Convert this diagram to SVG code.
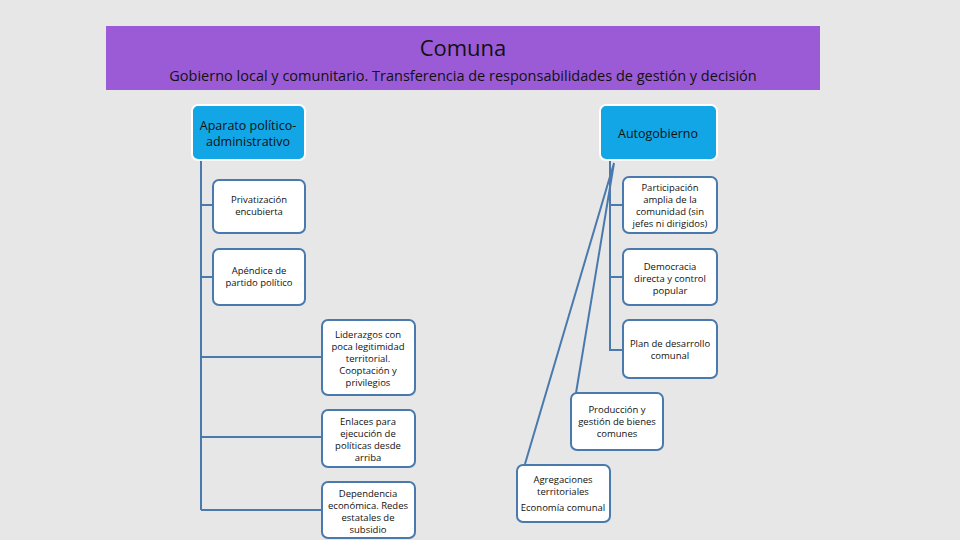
<svg xmlns="http://www.w3.org/2000/svg" width="960" height="540" viewBox="0 0 960 540">
<style>
text{font-family:"Open Sans","Liberation Sans",sans-serif;text-anchor:middle;fill:#111}
.b{fill:#fff;stroke:#4a7aad;stroke-width:2}
.h{fill:#12a6e6;stroke:#fff;stroke-width:2}
.s{font-size:9.5px}
.c{stroke:#4a7aad;stroke-width:2;fill:none}
</style>
<rect width="960" height="540" fill="#e7e7e7"/>
<g id="header"><rect x="106" y="26" width="714" height="64" fill="#9b5bd6"/>
<text x="463" y="56" style="font-size:22px">Comuna</text>
<text x="463" y="81" style="font-size:14.5px">Gobierno local y comunitario. Transferencia de responsabilidades de gestión y decisión</text></g>
<g id="connectors" class="c">
<path d="M201 160V510M201 205H213M201 277H213M201 357H322M201 437H322M201 510H322"/>
<path d="M610 160V350H623M610 205H623M610 277H623"/>
<path d="M614 163L576 393M614 163L525 464"/>
</g>
<g id="n1"><rect class="h" x="192" y="105" width="113" height="55" rx="6"/><text x="248" y="130" style="font-size:12.5px">Aparato político-</text><text x="248" y="146" style="font-size:12.5px">administrativo</text></g>
<g id="n2"><rect class="h" x="600" y="105" width="117" height="55" rx="6"/><text x="658" y="138" style="font-size:12.5px">Autogobierno</text></g>
<g id="n3" class="s"><rect class="b" x="213" y="180" width="92" height="53" rx="6"/><text x="259" y="203">Privatización</text><text x="259" y="215">encubierta</text></g>
<g id="n4" class="s"><rect class="b" x="213" y="249" width="92" height="56" rx="6"/><text x="259" y="274">Apéndice de</text><text x="259" y="286">partido político</text></g>
<g id="n5" class="s"><rect class="b" x="322" y="320" width="93" height="75" rx="6"/><text x="368" y="338">Liderazgos con</text><text x="368" y="350">poca legitimidad</text><text x="368" y="362">territorial.</text><text x="368" y="374">Cooptación y</text><text x="368" y="386">privilegios</text></g>
<g id="n6" class="s"><rect class="b" x="322" y="410" width="93" height="57" rx="6"/><text x="368" y="425">Enlaces para</text><text x="368" y="437">ejecución de</text><text x="368" y="449">políticas desde</text><text x="368" y="461">arriba</text></g>
<g id="n7" class="s"><rect class="b" x="322" y="482" width="93" height="56" rx="6"/><text x="368" y="497">Dependencia</text><text x="368" y="509">económica. Redes</text><text x="368" y="521">estatales de</text><text x="368" y="533">subsidio</text></g>
<g id="n8" class="s"><rect class="b" x="623" y="177" width="94" height="56" rx="6"/><text x="670" y="191">Participación</text><text x="670" y="203">amplia de la</text><text x="670" y="215">comunidad (sin</text><text x="670" y="227">jefes ni dirigidos)</text></g>
<g id="n9" class="s"><rect class="b" x="623" y="249" width="94" height="56" rx="6"/><text x="670" y="270">Democracia</text><text x="670" y="282">directa y control</text><text x="670" y="294">popular</text></g>
<g id="n10" class="s"><rect class="b" x="623" y="320" width="94" height="58" rx="6"/><text x="670" y="347">Plan de desarrollo</text><text x="670" y="359">comunal</text></g>
<g id="n11" class="s"><rect class="b" x="571" y="393" width="92" height="57" rx="6"/><text x="617" y="413">Producción y</text><text x="617" y="425">gestión de bienes</text><text x="617" y="437">comunes</text></g>
<g id="n12" class="s"><rect class="b" x="517" y="465" width="93" height="57" rx="6"/><text x="563" y="483">Agregaciones</text><text x="563" y="495">territoriales</text><text x="563" y="511">Economía comunal</text></g>
</svg>
